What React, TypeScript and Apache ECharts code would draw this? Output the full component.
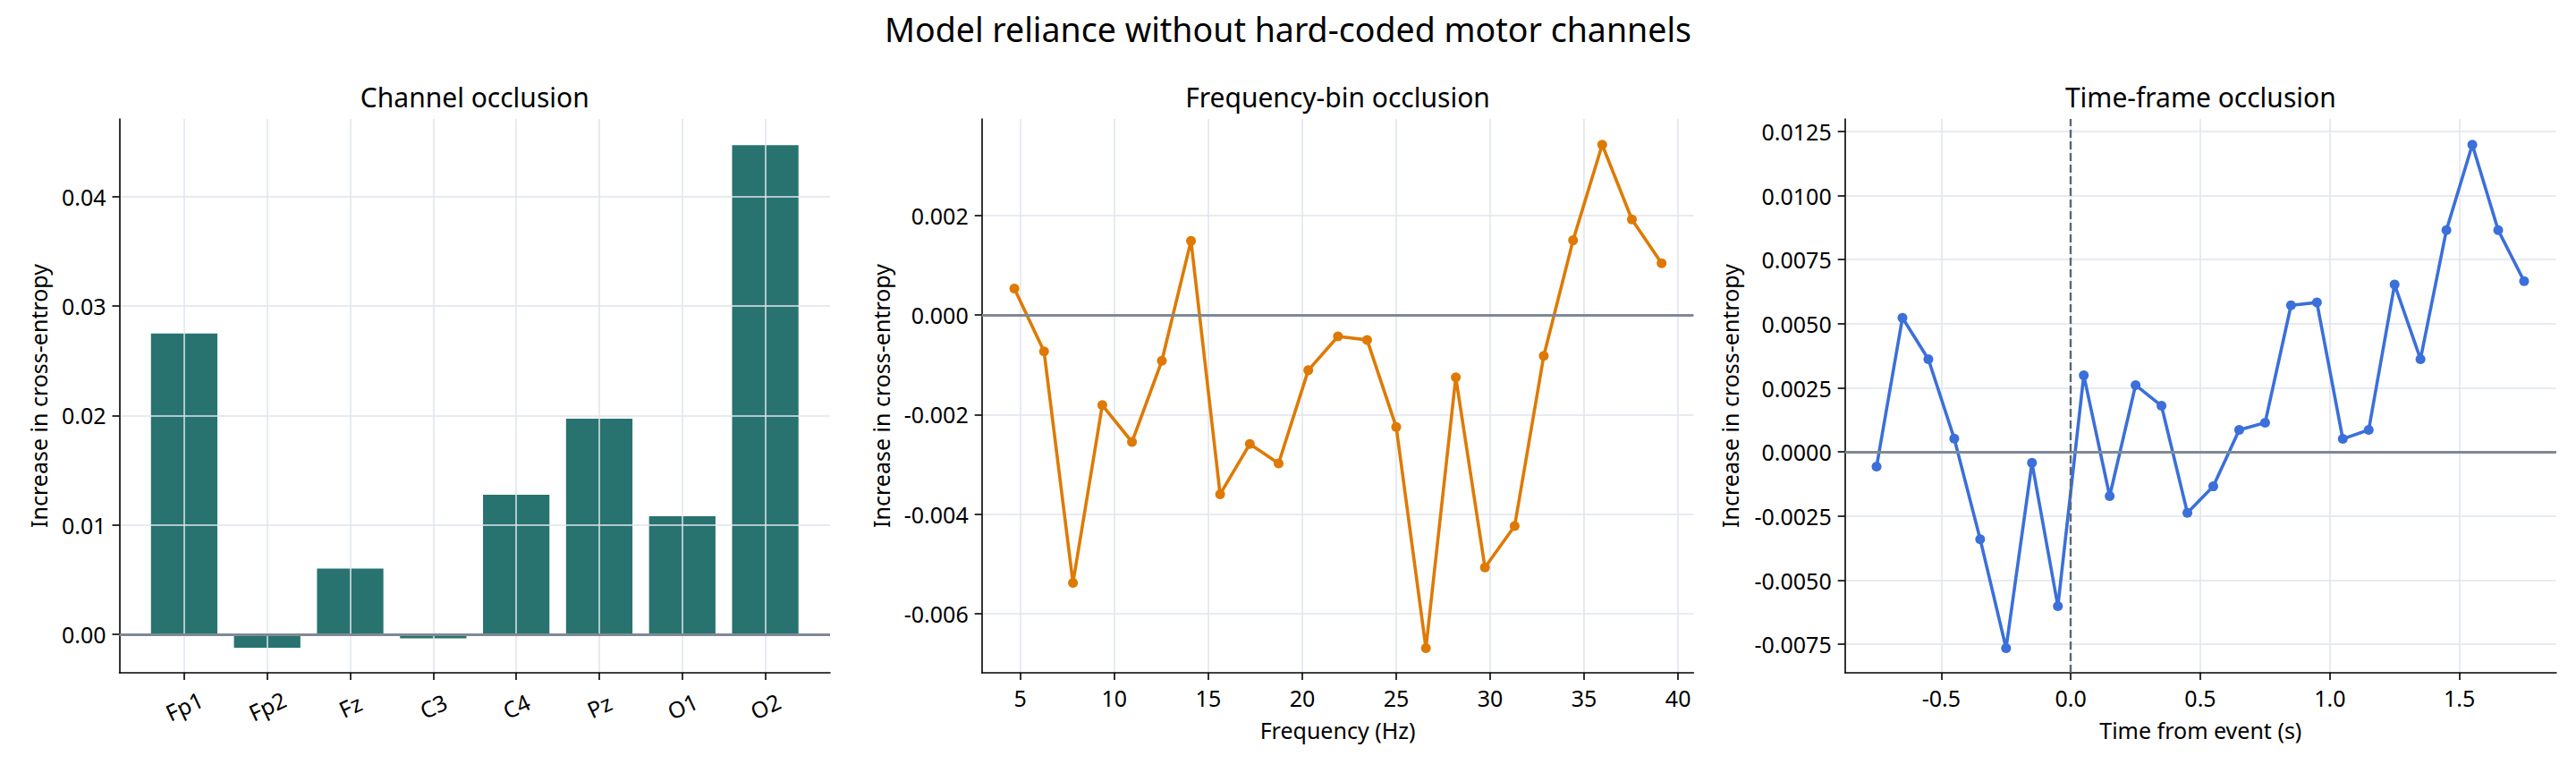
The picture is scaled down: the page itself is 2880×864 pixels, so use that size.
import React, { useEffect, useRef } from "react";
import * as echarts from "echarts";

// Channel occlusion: increase in cross-entropy per EEG channel
const channels = ["Fp1", "Fp2", "Fz", "C3", "C4", "Pz", "O1", "O2"];
const channelDelta = [0.0275, -0.00123, 0.006, -0.00038, 0.01275, 0.0197, 0.0108, 0.0447];
const channelYTicks = [0, 0.01, 0.02, 0.03, 0.04];

// Frequency-bin occlusion
const freqHz = [
  4.68, 6.26, 7.8, 9.36, 10.94, 12.53, 14.08, 15.63, 17.21, 18.74, 20.32, 21.9,
  23.45, 25.0, 26.58, 28.17, 29.72, 31.3, 32.85, 34.41, 35.96, 37.54, 39.12,
];
const freqDelta = [
  0.00053, -0.00073, -0.00538, -0.00181, -0.00255, -0.00092, 0.00149, -0.0036,
  -0.00259, -0.00298, -0.00111, -0.00043, -0.0005, -0.00225, -0.00669, -0.00125,
  -0.00507, -0.00424, -0.00082, 0.0015, 0.00342, 0.00192, 0.00104,
];
const freqXTicks = [5, 10, 15, 20, 25, 30, 35, 40];
const freqYTicks = [-0.006, -0.004, -0.002, 0, 0.002];

// Time-frame occlusion
const timeSec = [
  -0.75, -0.65, -0.55, -0.45, -0.35, -0.25, -0.15, -0.05, 0.05, 0.15, 0.25, 0.35,
  0.45, 0.55, 0.65, 0.75, 0.85, 0.95, 1.05, 1.15, 1.25, 1.35, 1.45, 1.55, 1.65, 1.75,
];
const timeDelta = [
  -0.00057, 0.00523, 0.00362, 0.00052, -0.0034, -0.00765, -0.00042, -0.00601,
  0.00299, -0.00172, 0.00261, 0.0018, -0.00237, -0.00134, 0.00086, 0.00114,
  0.00572, 0.00583, 0.00051, 0.00086, 0.00653, 0.00362, 0.00865, 0.01198,
  0.00865, 0.00666,
];
const timeXTicks = [-0.5, 0, 0.5, 1, 1.5];
const timeYTicks = [-0.0075, -0.005, -0.0025, 0, 0.0025, 0.005, 0.0075, 0.01, 0.0125];

const FONT = "'Noto Sans', 'DejaVu Sans', sans-serif";
const GRID = "#dfe4ec";
const ZERO = "#7f8995";
const TEAL = "#287370";
const ORANGE = "#de7a04";
const BLUE = "#3b6fda";

function valueAxis(
  ticks: number[],
  fmt: (v: number) => string,
  extra: Record<string, unknown>
) {
  return {
    type: "value",
    axisLine: { show: true, onZero: false, lineStyle: { color: "#000", width: 1.6 } },
    axisTick: {
      show: true,
      inside: false,
      length: 8,
      customValues: ticks,
      lineStyle: { color: "#000", width: 1.6 },
    },
    axisLabel: {
      customValues: ticks,
      formatter: (v: number) => fmt(v),
      color: "#000",
      fontSize: 25,
      fontFamily: FONT,
      margin: 15,
    },
    splitLine: { show: true, lineStyle: { color: GRID, width: 1.5 } },
    nameTextStyle: { color: "#000", fontSize: 25, fontFamily: FONT, verticalAlign: "middle" },
    ...extra,
  };
}

const zeroLine = {
  silent: true,
  symbol: "none",
  label: { show: false },
  lineStyle: { color: ZERO, width: 2.8, type: "solid" },
  data: [{ yAxis: 0 }],
};

function titleText(text: string, x: number, y: number, size: number) {
  return {
    type: "text",
    x,
    y,
    style: {
      text,
      fill: "#000",
      fontSize: size,
      fontFamily: FONT,
      align: "center",
      verticalAlign: "middle",
    },
  };
}

const channelIndex = channels.map((_, i) => i);

export default function App() {
  const ref = useRef<HTMLDivElement>(null);

  useEffect(() => {
    if (!ref.current) return;
    const chart = echarts.init(ref.current, undefined, { renderer: "svg" });

    const top = 133;
    const bottom = 112;

    chart.setOption({
      animation: false,
      backgroundColor: "#fff",
      textStyle: { fontFamily: FONT },
      grid: [
        { left: 133.5, right: 2880 - 928, top, bottom },
        { left: 1097.7, right: 2880 - 1893.4, top, bottom },
        { left: 2062.7, right: 2880 - 2857.9, top, bottom },
      ],
      xAxis: [
        valueAxis(channelIndex, (v) => channels[Math.round(v)] ?? "", {
          gridIndex: 0,
          min: -0.78,
          max: 7.78,
          z: 3,
          axisLabel: {
            customValues: channelIndex,
            formatter: (v: number) => channels[Math.round(v)] ?? "",
            color: "#000",
            fontSize: 25,
            fontFamily: FONT,
            rotate: 25,
            align: "center",
            verticalAlign: "middle",
            margin: 37,
          },
        }),
        valueAxis(freqXTicks, (v) => String(v), {
          gridIndex: 1,
          min: 2.95,
          max: 40.82,
          name: "Frequency (Hz)",
          nameLocation: "middle",
          nameGap: 64,
        }),
        valueAxis(timeXTicks, (v) => v.toFixed(1), {
          gridIndex: 2,
          min: -0.872,
          max: 1.874,
          name: "Time from event (s)",
          nameLocation: "middle",
          nameGap: 64,
        }),
      ],
      yAxis: [
        valueAxis(channelYTicks, (v) => v.toFixed(2), {
          gridIndex: 0,
          min: -0.00352,
          max: 0.0471,
          z: 3,
          name: "Increase in cross-entropy",
          nameLocation: "middle",
          nameGap: 91,
        }),
        valueAxis(freqYTicks, (v) => v.toFixed(3), {
          gridIndex: 1,
          min: -0.007186,
          max: 0.003937,
          name: "Increase in cross-entropy",
          nameLocation: "middle",
          nameGap: 113,
        }),
        valueAxis(timeYTicks, (v) => v.toFixed(4), {
          gridIndex: 2,
          min: -0.00861,
          max: 0.012985,
          name: "Increase in cross-entropy",
          nameLocation: "middle",
          nameGap: 129,
        }),
      ],
      series: [
        {
          type: "bar",
          xAxisIndex: 0,
          yAxisIndex: 0,
          barWidth: "80%",
          data: channelDelta.map((v, i) => [i, v]),
          itemStyle: { color: TEAL },
          markLine: { ...zeroLine, z: 4 },
        },
        {
          type: "line",
          xAxisIndex: 1,
          yAxisIndex: 1,
          data: freqDelta.map((v, i) => [freqHz[i], v]),
          symbol: "circle",
          symbolSize: 11,
          showSymbol: true,
          lineStyle: { color: ORANGE, width: 3.6 },
          itemStyle: { color: ORANGE },
          markLine: zeroLine,
          z: 3,
        },
        {
          type: "line",
          xAxisIndex: 2,
          yAxisIndex: 2,
          data: timeDelta.map((v, i) => [timeSec[i], v]),
          symbol: "circle",
          symbolSize: 11,
          showSymbol: true,
          lineStyle: { color: BLUE, width: 3.6 },
          itemStyle: { color: BLUE },
          markLine: {
            ...zeroLine,
            data: [
              { yAxis: 0 },
              { xAxis: 0, lineStyle: { color: "#5b6776", width: 2.4, type: [9, 4] } },
            ],
          },
          z: 3,
        },
      ],
      graphic: [
        titleText("Model reliance without hard-coded motor channels", 1440, 32, 37.5),
        titleText("Channel occlusion", 530.75, 108, 30),
        titleText("Frequency-bin occlusion", 1495.5, 108, 30),
        titleText("Time-frame occlusion", 2460.3, 108, 30),
      ],
    });

    return () => chart.dispose();
  }, []);

  return (
    <div
      ref={ref}
      style={{ position: "fixed", left: 0, top: 0, width: 2880, height: 864, background: "#fff" }}
    />
  );
}
